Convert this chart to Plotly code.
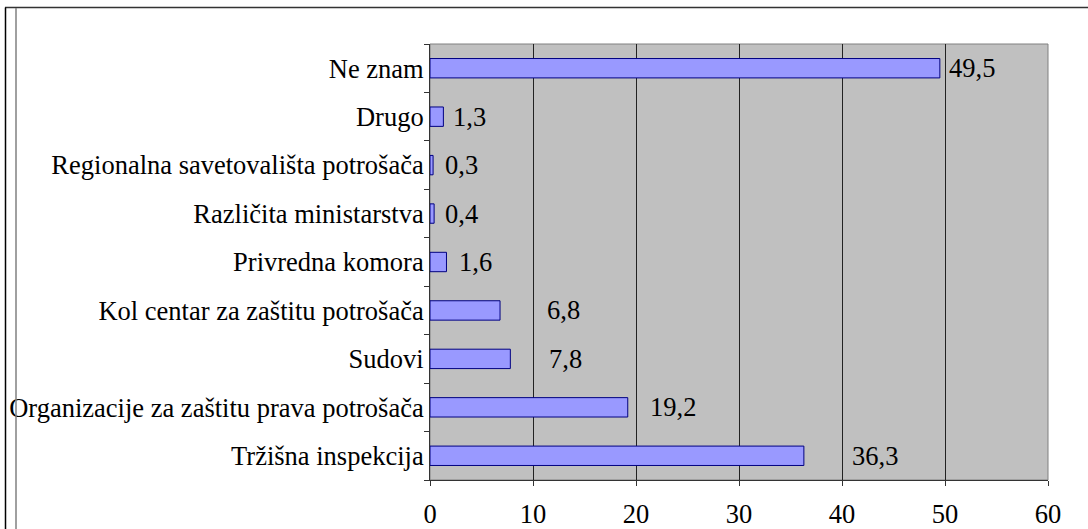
import plotly.graph_objects as go

categories = [
    "Tržišna inspekcija",
    "Organizacije za zaštitu prava potrošača",
    "Sudovi",
    "Kol centar za zaštitu potrošača",
    "Privredna komora",
    "Različita ministarstva",
    "Regionalna savetovališta potrošača",
    "Drugo",
    "Ne znam",
]
values = [36.3, 19.2, 7.8, 6.8, 1.6, 0.4, 0.3, 1.3, 49.5]
x_ticks = [0, 10, 20, 30, 40, 50, 60]

# label offsets (px) to the right of bar ends, as in the original layout
label_shift = [46, 20, 37, 45, 11, 9, 10, 8, 7]

FONT = "Liberation Serif"
FS = 26.5

PX0, PW, PY0, PH = 430, 618, 480, 436  # plot area pixel geometry


def px(xpix):
    return (xpix - PX0) / PW


def py(ypix):
    return (PY0 - ypix) / PH


fig = go.Figure()
fig.add_trace(go.Bar(
    y=categories, x=values, orientation="h",
    width=0.4,
    marker=dict(color="#9999FF", line=dict(color="#000080", width=1)),
    hoverinfo="skip",
))

annotations = []
for c, v, s in zip(categories, values, label_shift):
    annotations.append(dict(
        x=v, y=c, xref="x", yref="y",
        text=f"{v:.1f}".replace(".", ","),
        showarrow=False, xanchor="left", yanchor="middle",
        xshift=s, font=dict(family=FONT, size=FS, color="black"),
    ))

shapes = [
    # plot area border (gray)
    dict(type="rect", xref="paper", yref="paper", x0=0, x1=1, y0=0, y1=1,
         line=dict(color="#808080", width=1), layer="below"),
    # outer chart frame
    dict(type="line", xref="paper", yref="paper",
         x0=px(5), x1=px(1100), y0=py(7.5), y1=py(7.5),
         line=dict(color="#333333", width=1.5)),
    dict(type="line", xref="paper", yref="paper",
         x0=px(5.5), x1=px(5.5), y0=py(7.5), y1=py(540),
         line=dict(color="#000000", width=1.5)),
    dict(type="line", xref="paper", yref="paper",
         x0=px(16), x1=px(16), y0=py(8), y1=py(540),
         line=dict(color="#808080", width=1.5)),
]

fig.update_layout(
    width=1088, height=529,
    margin=dict(l=430, r=40, t=44, b=49, autoexpand=False),
    paper_bgcolor="white",
    plot_bgcolor="#C0C0C0",
    showlegend=False,
    font=dict(family=FONT, size=FS, color="black"),
    annotations=annotations,
    shapes=shapes,
    xaxis=dict(
        range=[0, 60], tickvals=x_ticks, ticktext=[str(t) for t in x_ticks],
        showgrid=True, gridcolor="#222222", gridwidth=1,
        zeroline=False, showline=True, linecolor="#333333", linewidth=1,
        ticks="outside", ticklen=5, tickcolor="#333333",
        ticklabelstandoff=5, automargin=False,
        tickfont=dict(family=FONT, size=FS, color="black"),
        fixedrange=True,
    ),
    yaxis=dict(
        categoryorder="array", categoryarray=categories,
        showgrid=False, zeroline=False, automargin=False,
        showline=True, linecolor="#333333", linewidth=1,
        ticks="outside", ticklen=5, tickcolor="#333333", tickson="boundaries",
        tickfont=dict(family=FONT, size=FS, color="black"),
        fixedrange=True,
    ),
)

fig.write_html("out.html", config={"displayModeBar": False},
               post_script="document.body.style.margin='0';")
